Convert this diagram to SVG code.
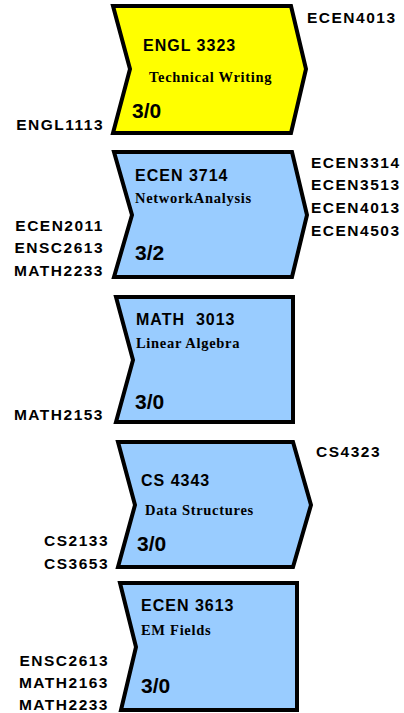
<svg xmlns="http://www.w3.org/2000/svg" width="404" height="713" viewBox="0 0 404 713">
<style>
.box{stroke:#000;stroke-width:4;stroke-linejoin:miter}
.y{fill:#FFFF00}
.b{fill:#99CCFF}
.code{font-family:"Liberation Sans",Arial,sans-serif;font-weight:bold;font-size:16px;letter-spacing:1px;fill:#000}
.title{font-family:"Liberation Serif","Times New Roman",serif;font-weight:bold;font-size:14.5px;letter-spacing:0.7px;fill:#000}
.cr{font-family:"Liberation Sans",Arial,sans-serif;font-weight:bold;font-size:21px;fill:#000}
.lbl{font-family:"Liberation Sans",Arial,sans-serif;font-weight:bold;font-size:15.5px;letter-spacing:1.5px;fill:#000}
.l{text-anchor:end}
</style>
<rect width="404" height="713" fill="#fff"/>
<g id="engl3323">
<polygon class="box y" points="113,6 291,6 306,69 291,133 113,133 130,69"/>
<text class="code" x="143" y="51">ENGL 3323</text>
<text class="title" x="149" y="82">Technical Writing</text>
<text class="cr" x="132" y="118">3/0</text>
</g>
<g id="ecen3714">
<polygon class="box b" points="114,152 292,152 307,215 292,277 114,277 132,215"/>
<text class="code" x="135" y="181">ECEN 3714</text>
<text class="title" x="135" y="203">NetworkAnalysis</text>
<text class="cr" x="135" y="260">3/2</text>
</g>
<g id="math3013">
<polygon class="box b" points="116,297 293,297 293,422 116,422 133,360"/>
<text class="code" x="136" y="325" xml:space="preserve">MATH  3013</text>
<text class="title" x="136" y="348">Linear Algebra</text>
<text class="cr" x="135" y="409">3/0</text>
</g>
<g id="cs4343">
<polygon class="box b" points="118,442 293,442 311,505 293,567 118,567 135,505"/>
<text class="code" x="141" y="486">CS 4343</text>
<text class="title" x="145" y="515">Data Structures</text>
<text class="cr" x="137" y="551">3/0</text>
</g>
<g id="ecen3613">
<polygon class="box b" points="120,583 297,583 297,710 121,710 136,647"/>
<text class="code" x="141" y="611">ECEN 3613</text>
<text class="title" x="141" y="635">EM Fields</text>
<text class="cr" x="141" y="693">3/0</text>
</g>
<g id="labels">
<text class="lbl l" x="104" y="130">ENGL1113</text>
<text class="lbl l" x="104" y="231">ECEN2011</text>
<text class="lbl l" x="104" y="253">ENSC2613</text>
<text class="lbl l" x="104" y="276">MATH2233</text>
<text class="lbl l" x="104" y="420">MATH2153</text>
<text class="lbl l" x="109" y="546">CS2133</text>
<text class="lbl l" x="109" y="569">CS3653</text>
<text class="lbl l" x="109" y="666">ENSC2613</text>
<text class="lbl l" x="109" y="688">MATH2163</text>
<text class="lbl l" x="109" y="710">MATH2233</text>
<text class="lbl" x="307" y="23">ECEN4013</text>
<text class="lbl" x="311" y="168">ECEN3314</text>
<text class="lbl" x="311" y="190">ECEN3513</text>
<text class="lbl" x="311" y="213">ECEN4013</text>
<text class="lbl" x="311" y="236">ECEN4503</text>
<text class="lbl" x="316" y="457">CS4323</text>
</g>
</svg>
